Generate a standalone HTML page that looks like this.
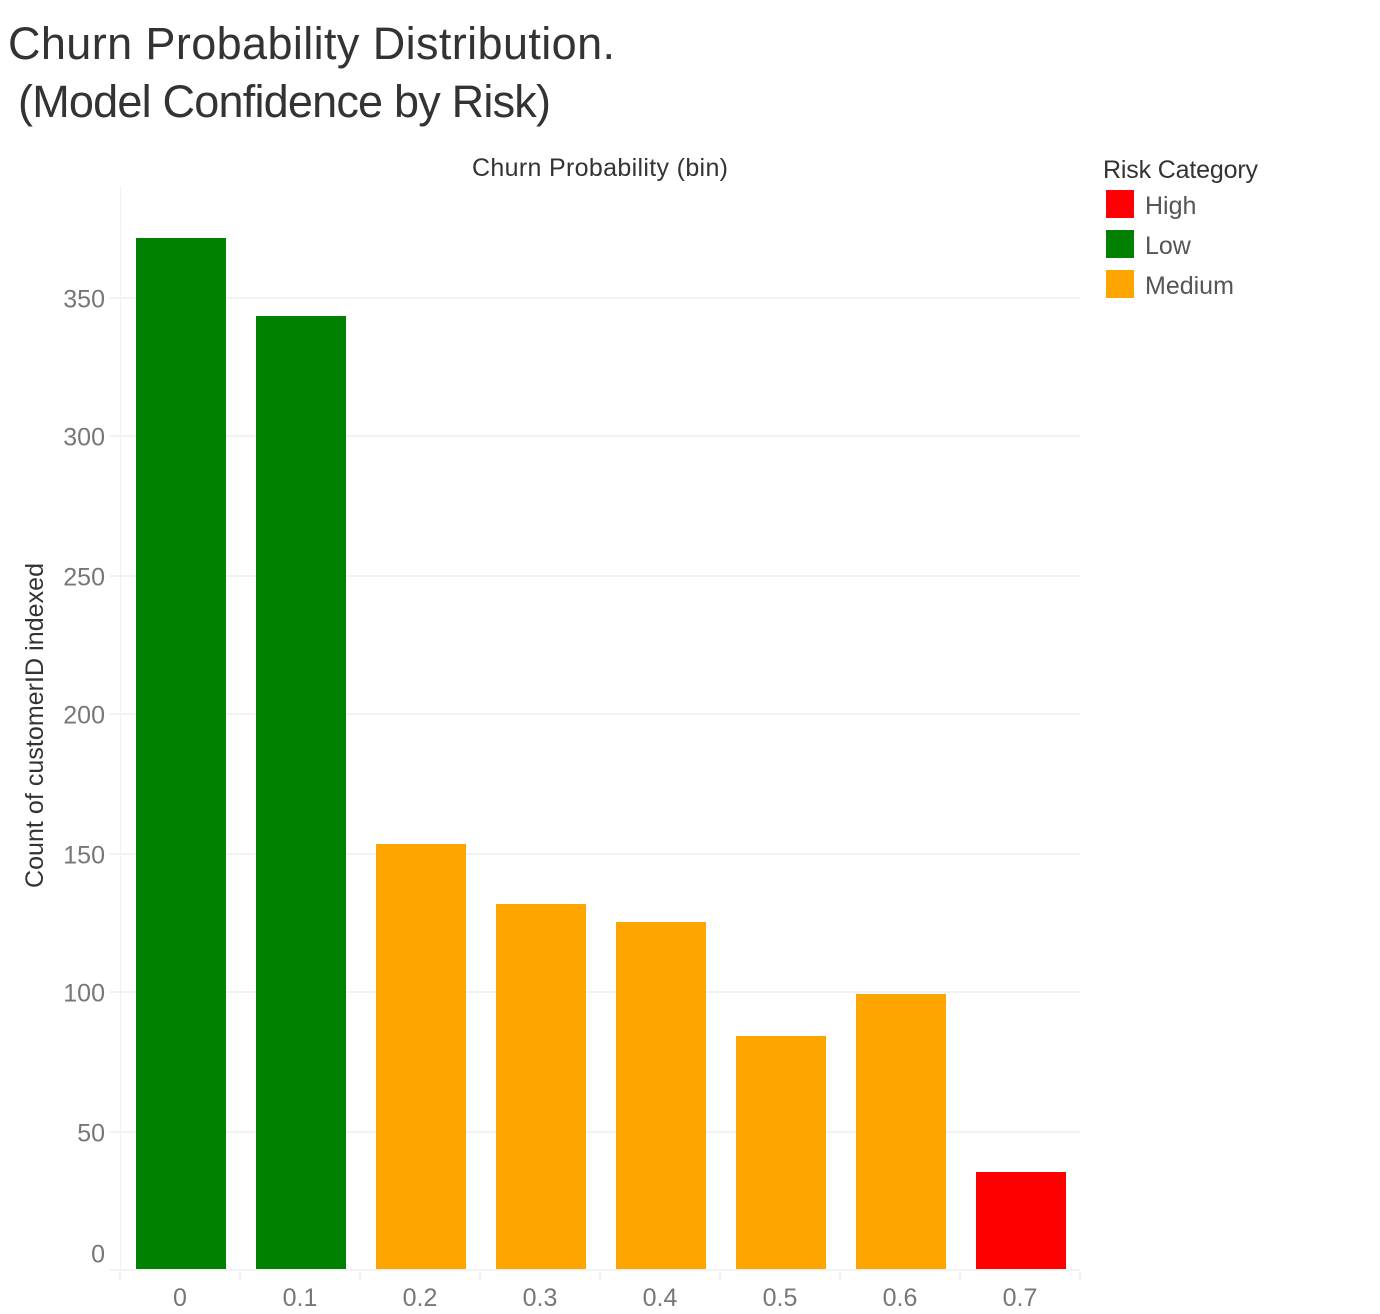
<!DOCTYPE html>
<html lang="en">
<head>
<meta charset="utf-8">
<title>Churn Probability Distribution</title>
<style>
html,body{margin:0;padding:0;background:#fff;width:1380px;height:1314px;overflow:hidden}
svg{display:block;font-family:"Liberation Sans",sans-serif}
</style>
</head>
<body>
<svg id="chart" xmlns="http://www.w3.org/2000/svg" width="1380" height="1314" viewBox="0 0 1380 1314">
  <text x="8" y="59" font-size="45" fill="#333333" textLength="607" lengthAdjust="spacing">Churn Probability Distribution.</text>
  <text x="18" y="117" font-size="45" fill="#333333" textLength="533" lengthAdjust="spacing">(Model Confidence by Risk)</text>
  <text x="472" y="176" font-size="25" fill="#333333" textLength="256" lengthAdjust="spacing">Churn Probability (bin)</text>
  <text transform="translate(43,888) rotate(-90)" font-size="25" fill="#333333" textLength="325" lengthAdjust="spacing">Count of customerID indexed</text>
  <g id="grid"></g>
  <g id="bars"></g>
  <g id="xaxis"></g>
  <g id="yaxis"></g>
  <g id="legend">
    <text x="1103" y="178" font-size="25" fill="#333333" textLength="155" lengthAdjust="spacing">Risk Category</text>
  </g>
</svg>
<script>
const categories = ["0", "0.1", "0.2", "0.3", "0.4", "0.5", "0.6", "0.7"];
const counts = [371, 343, 153, 132, 125, 84, 99, 35];
const risks = ["Low", "Low", "Medium", "Medium", "Medium", "Medium", "Medium", "High"];
const yTicks = [0, 50, 100, 150, 200, 250, 300, 350];
const legendRisks = ["High", "Low", "Medium"];
const riskColors = { High: "#ff0000", Low: "#008000", Medium: "#ffa500" };

const NS = "http://www.w3.org/2000/svg";
const plotLeft = 120, plotRight = 1080, plotTop = 186, zeroY = 1271, barBottom = 1269;
const unitPx = 2.78;
const stepX = (plotRight - plotLeft) / categories.length;
const barW = 90;
function yScale(v) { return 2 * Math.floor((zeroY - v * unitPx) / 2); }
function xLeft(i) { return plotLeft + i * stepX; }
function mk(tag, attrs, parent) {
  const el = document.createElementNS(NS, tag);
  for (const k in attrs) el.setAttribute(k, attrs[k]);
  parent.appendChild(el);
  return el;
}
const grid = document.getElementById("grid");
const barsG = document.getElementById("bars");
const xaxis = document.getElementById("xaxis");
const yaxis = document.getElementById("yaxis");
const legend = document.getElementById("legend");

const vline = mk("rect", { x: plotLeft, y: plotTop, width: 1, height: 1270 - plotTop, fill: "#f0f0f0" }, grid);



yTicks.forEach(function (t) {
  const y = yScale(t);
  const line = mk("rect", { x: 110, y: y - 1, width: plotRight - 110, height: 2, fill: "#f2f2f2" }, grid);
  
  
  const label = mk("text", { x: 105, y: Math.min(y + 9.5, 1262.5), "text-anchor": "end", "font-size": 25, fill: "#777777" }, yaxis);
  
  
  label.textContent = String(t);
});

categories.forEach(function (c, i) {
  const left = xLeft(i);
  const bar = mk("rect", {
    x: left + 16,
    y: yScale(counts[i]),
    width: barW,
    height: barBottom - yScale(counts[i]),
    fill: riskColors[risks[i]]
  }, barsG);
  
  
  const label = mk("text", { x: left + 60, y: 1306, "text-anchor": "middle", "font-size": 25, fill: "#777777" }, xaxis);
  
  
  label.textContent = c;
});

for (let i = 0; i <= categories.length; i++) {
  const tick = mk("rect", { x: xLeft(i) - 1, y: 1271, width: 2, height: 9, fill: "#f2f2f2" }, xaxis);
  
  
}

legendRisks.forEach(function (r, i) {
  const swatch = mk("rect", { x: 1106, y: 190 + i * 40, width: 28, height: 28, fill: riskColors[r] }, legend);
  
  
  const label = mk("text", { x: 1145, y: 214 + i * 40, "font-size": 25, fill: "#555555" }, legend);
  
  
  label.textContent = r;
});
</script>
</body>
</html>
